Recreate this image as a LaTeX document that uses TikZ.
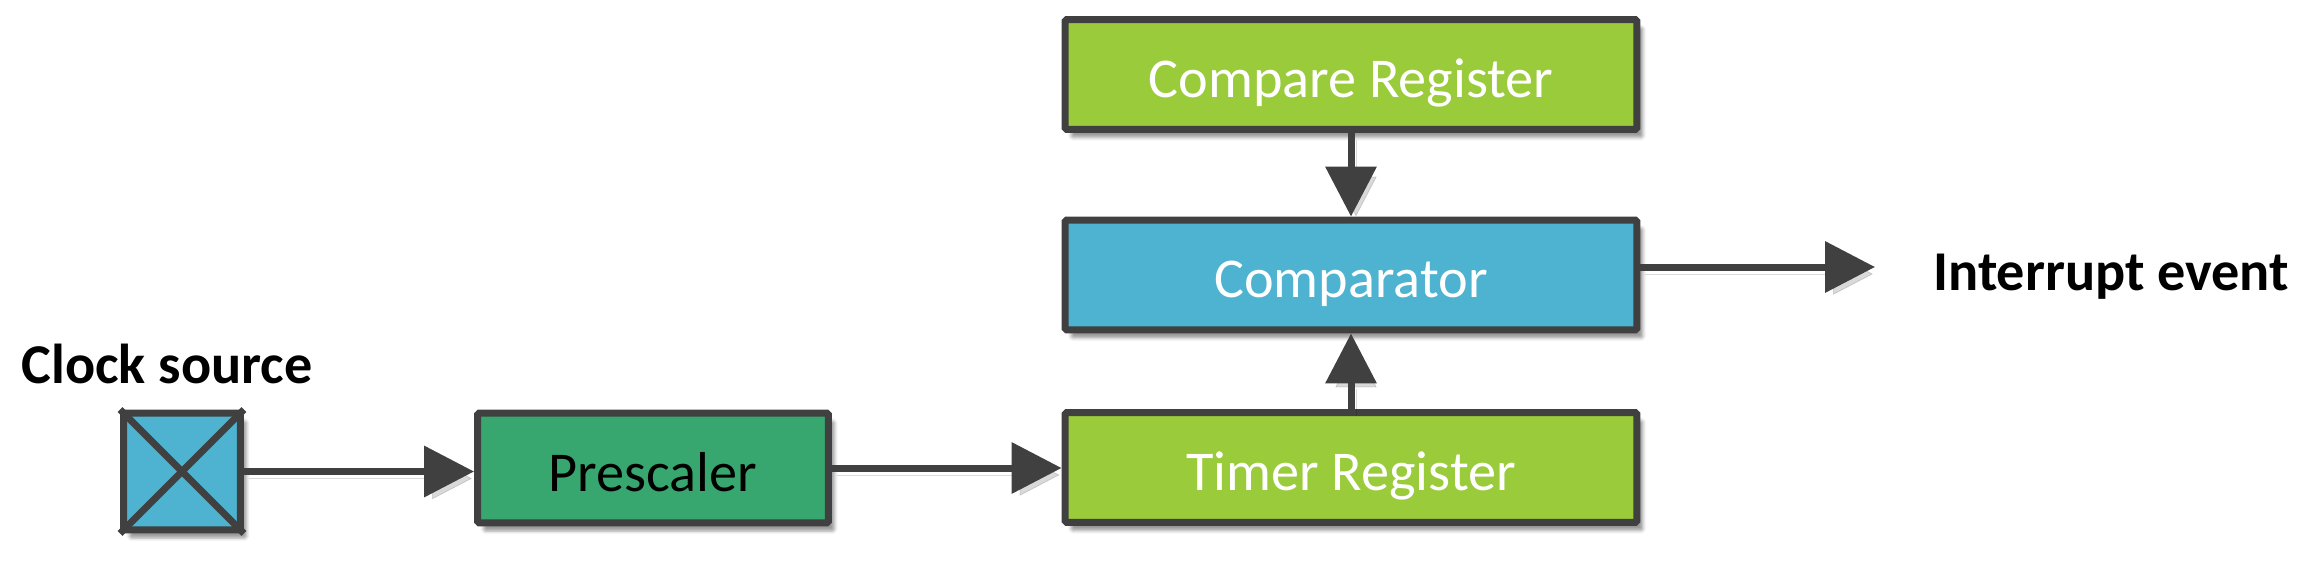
\documentclass[tikz,border=0pt]{standalone}
\usepackage{fontspec}
\setmainfont{Carlito}
\usetikzlibrary{arrows.meta,shadows.blur}
\definecolor{regGreen}{RGB}{154,203,59}
\definecolor{cmpBlue}{RGB}{78,179,208}
\definecolor{preGreen}{RGB}{55,167,111}
\definecolor{edgeGray}{RGB}{64,64,64}
\tikzstyle{block} = [draw=edgeGray, line width=0.14cm, rounded corners=1pt, minimum height=2.2cm, inner sep=0pt, text height=0.92cm, text depth=0pt, blur shadow={shadow xshift=0.12cm, shadow yshift=-0.16cm}, font=\fontsize{32}{38}\selectfont]
\tikzstyle{arrow} = [line width=0.14cm, edgeGray, -{Triangle[length=1cm,width=1cm]}, preaction={draw=black, opacity=0.15, transform canvas={shift={(0.1cm,-0.14cm)}}}]
\tikzstyle{caption} = [font=\fontsize{32}{38}\selectfont\bfseries, inner sep=0pt]
\begin{document}
\begin{tikzpicture}[x=0.02cm,y=-0.02cm]
			\useasboundingbox (0,0) rectangle (2312,578);
			\pgfmathsetmacro{\regwidth}{11.44}
			 \node[block, fill=regGreen, text=white, minimum width=\regwidth cm] (compare) at (1351,74.5) {Compare Register};
			 \node[block, fill=cmpBlue, text=white, minimum width=\regwidth cm] (comparator) at (1351,275) {Comparator};
			 \node[block, fill=regGreen, text=white, minimum width=\regwidth cm] (timer) at (1351,467.5) {Timer Register};
			 \node[block, fill=preGreen, text=black, minimum width=7.02cm] (prescaler) at (653,468) {Prescaler};
			 \node[block, fill=cmpBlue, minimum width=2.34cm, minimum height=2.34cm] (clock) at (182,471.5) {};
			 \draw[edgeGray, line width=0.14cm] (clock.north west) -- (clock.south east)
			 (clock.north east) -- (clock.south west);
			 \node[caption, anchor=base] (clocklabel) at (167,383) {Clock source};
			 \coordinate (intr) at (1875,267);
			 \node[caption, anchor=base west] (intrlabel) at (1933,290) {Interrupt event};
			 \draw[arrow] (clock.east) -- (clock.east -| prescaler.west);
			 \draw[arrow] (prescaler.east) -- (prescaler.east -| timer.west);
			 \draw[arrow] (compare.south) -- (comparator.north);
			 \draw[arrow] (timer.north) -- (comparator.south);
			 \draw[arrow] (comparator.east |- intr) -- (intr);
			\end{tikzpicture}
\end{document}
